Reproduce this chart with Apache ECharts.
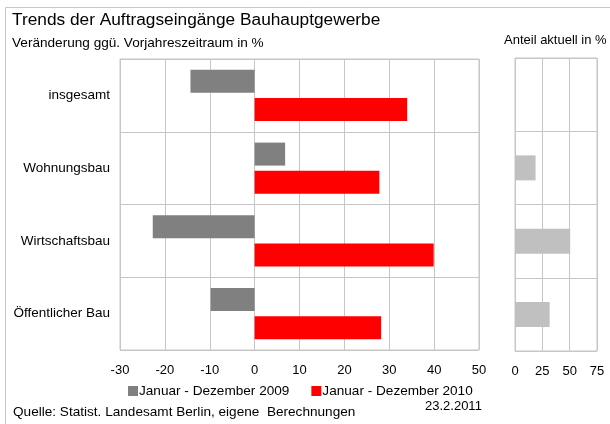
<!DOCTYPE html>
<html>
<head>
<meta charset="utf-8">
<script src="https://cdn.jsdelivr.net/npm/echarts@6/dist/echarts.min.js"></script>
<style>
  html, body { margin: 0; padding: 0; background: #fff; }
  #chart { width: 610px; height: 424px; }
</style>
</head>
<body>
<div id="chart"></div>
<script>
// Sparten des Bauhauptgewerbes
const categories = ['insgesamt', 'Wohnungsbau', 'Wirtschaftsbau', 'Öffentlicher Bau'];
// Veränderung ggü. Vorjahreszeitraum in %
const values2009 = [-14.3, 6.8, -22.7, -9.8];
const values2010 = [34.0, 27.8, 39.9, 28.2];
// Anteil aktuell in %
const shareCurrent = [null, 18.8, 50.5, 31.7];
const mainTicks = [-30, -20, -10, 0, 10, 20, 30, 40, 50];
const shareTicks = [0, 25, 50, 75];
const seriesNames = ['Januar - Dezember 2009', 'Januar - Dezember 2010'];

const FONT = '"Liberation Sans", Arial, sans-serif';
const GRID_COLOR = '#c6c6c6';

const chart = echarts.init(document.getElementById('chart'), null, { renderer: 'canvas' });

const catAxisBase = {
  type: 'category',
  data: categories,
  inverse: true,
  axisTick: { show: false },
  axisLine: { show: false },
  splitLine: { show: true, lineStyle: { color: GRID_COLOR, width: 1 } }
};

const valAxisBase = {
  type: 'value',
  axisTick: { show: false },
  axisLine: { show: false },
  splitLine: { show: true, lineStyle: { color: GRID_COLOR, width: 1 } },
  axisLabel: { color: '#000', fontFamily: FONT, fontSize: 13, margin: 14 }
};

chart.setOption({
  animation: false,
  backgroundColor: '#fff',
  textStyle: { fontFamily: FONT },
  grid: [
    { left: 120, top: 59, width: 359, height: 291, show: true, borderColor: GRID_COLOR, borderWidth: 1, containLabel: false },
    { left: 515, top: 58, width: 82, height: 293, show: true, borderColor: GRID_COLOR, borderWidth: 1, containLabel: false }
  ],
  xAxis: [
    Object.assign({}, valAxisBase, {
      gridIndex: 0, min: mainTicks[0], max: mainTicks[mainTicks.length - 1], interval: 10
    }),
    Object.assign({}, valAxisBase, {
      gridIndex: 1, min: shareTicks[0], max: shareTicks[shareTicks.length - 1], interval: 25
    })
  ],
  yAxis: [
    Object.assign({}, catAxisBase, {
      gridIndex: 0,
      axisLabel: { color: '#000', fontFamily: FONT, fontSize: 13.5, margin: 10, padding: [3, 0, 0, 0] }
    }),
    Object.assign({}, catAxisBase, {
      gridIndex: 1,
      axisLabel: { show: false }
    })
  ],
  legend: {
    left: 123,
    top: 379,
    itemWidth: 10,
    itemHeight: 10,
    itemGap: 22,
    icon: 'rect',
    textStyle: { color: '#000', fontFamily: FONT, fontSize: 13.6, padding: [0, 0, 0, -4] },
    data: seriesNames
  },
  series: [
    {
      name: seriesNames[0], type: 'bar', xAxisIndex: 0, yAxisIndex: 0,
      data: values2009, barWidth: 23, barGap: '22%',
      itemStyle: { color: '#808080' }
    },
    {
      name: seriesNames[1], type: 'bar', xAxisIndex: 0, yAxisIndex: 0,
      data: values2010, barWidth: 23, barGap: '22%',
      itemStyle: { color: '#ff0000' }
    },
    {
      name: 'Anteil', type: 'bar', xAxisIndex: 1, yAxisIndex: 1,
      data: shareCurrent, barWidth: 25,
      itemStyle: { color: '#c0c0c0' }
    }
  ],
  graphic: [
    // Rahmen
    { type: 'line', shape: { x1: 5.5, y1: 7.5, x2: 610, y2: 7.5 }, style: { stroke: '#c8c8c8', lineWidth: 1 } },
    { type: 'line', shape: { x1: 5.5, y1: 7.5, x2: 5.5, y2: 424 }, style: { stroke: '#c8c8c8', lineWidth: 1 } },
    { type: 'text', left: 12, top: 12, style: { text: 'Trends der Auftragseingänge Bauhauptgewerbe', fill: '#000', font: '17.3px ' + FONT } },
    { type: 'text', left: 12, top: 36, style: { text: 'Veränderung ggü. Vorjahreszeitraum in %', fill: '#000', font: '13.6px ' + FONT } },
    { type: 'text', left: 504, top: 34, style: { text: 'Anteil aktuell in %', fill: '#000', font: '13px ' + FONT } },
    { type: 'text', left: 13, top: 405, style: { text: 'Quelle: Statist. Landesamt Berlin, eigene  Berechnungen', fill: '#000', font: '13.6px ' + FONT } },
    { type: 'text', left: 425, top: 400, style: { text: '23.2.2011', fill: '#000', font: '13px ' + FONT } }
  ]
});
</script>
</body>
</html>
